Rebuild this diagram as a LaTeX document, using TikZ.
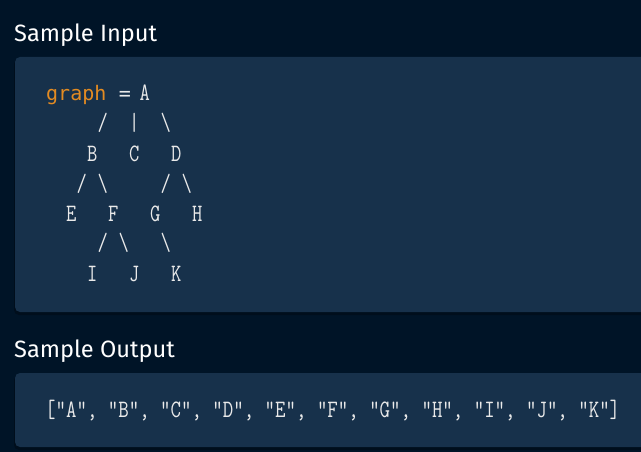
\documentclass[tikz,border=0pt]{standalone}
\usepackage{fontspec}
\usepackage{xcolor}
\setsansfont{Fira Sans}
\newfontfamily\keyfont{DejaVu Sans Mono}
\definecolor{pagebg}{HTML}{001427}
\definecolor{panelbg}{HTML}{17314B}
\definecolor{panelshade}{HTML}{000E1C}
\definecolor{codetext}{HTML}{EAEAEA}
\definecolor{keyword}{HTML}{E38B22}

% tall monospace glyphs, grid of the code panel
\newcommand{\tallglyph}[1]{\scalebox{1}[1.25]{#1}}
\newcommand{\gx}[1]{50.25+10.5*#1}
\newcommand{\gy}[1]{101+30*#1}

\begin{document}
\begin{tikzpicture}[x=1pt,y=-1pt]
\tikzstyle{every node}+=[inner sep=0pt]
\tikzstyle{heading}=[anchor=base west,text=white,font=\sffamily\fontsize{23.6}{24}\selectfont]
\tikzstyle{code}=[anchor=base,text=codetext,font=\ttfamily\fontsize{20}{20}\selectfont]
\tikzstyle{panel}=[fill=panelbg,rounded corners=5pt]
\tikzstyle{shade}=[fill=panelshade,rounded corners=5pt]
% page and panels
\useasboundingbox (0,0) rectangle (641,452);
\clip (0,0) rectangle (641,452);
\fill [pagebg] (0,0) rectangle (641,452);
\fill [shade] (14,59) rectangle (660,315);
\fill [panel] (15,57) rectangle (660,312);
\fill [shade] (14,375) rectangle (660,450);
\fill [panel] (15,373) rectangle (660,447);
% headings
\node [heading] (inhead) at (14,42) {Sample Input};
\node [heading] (outhead) at (14,357) {Sample Output};
% first line
\node [anchor=base west,text=keyword,font=\keyfont\fontsize{20}{20}\selectfont] (kw) at (46,101) {graph};
\node [anchor=base,text=codetext,font=\keyfont\fontsize{20}{20}\selectfont] (eq) at (125,101) {=};
\node [code] (A) at ({\gx{9}},{\gy{0}}) {\tallglyph{A}};
% row 1
\node [code] (AB) at ({\gx{5}},{\gy{1}}) {\tallglyph{/}};
\node [code] (AC) at ({\gx{8}},{\gy{1}}) {\tallglyph{|}};
\node [code] (AD) at ({\gx{11}},{\gy{1}}) {\tallglyph{\textbackslash}};
% row 2
\node [code] (B) at ({\gx{4}},{\gy{2}}) {\tallglyph{B}};
\node [code] (C) at ({\gx{8}},{\gy{2}}) {\tallglyph{C}};
\node [code] (D) at ({\gx{12}},{\gy{2}}) {\tallglyph{D}};
% row 3
\node [code] (BE) at ({\gx{3}},{\gy{3}}) {\tallglyph{/}};
\node [code] (BF) at ({\gx{5}},{\gy{3}}) {\tallglyph{\textbackslash}};
\node [code] (DG) at ({\gx{11}},{\gy{3}}) {\tallglyph{/}};
\node [code] (DH) at ({\gx{13}},{\gy{3}}) {\tallglyph{\textbackslash}};
% row 4
\node [code] (E) at ({\gx{2}},{\gy{4}}) {\tallglyph{E}};
\node [code] (F) at ({\gx{6}},{\gy{4}}) {\tallglyph{F}};
\node [code] (G) at ({\gx{10}},{\gy{4}}) {\tallglyph{G}};
\node [code] (H) at ({\gx{14}},{\gy{4}}) {\tallglyph{H}};
% row 5
\node [code] (FI) at ({\gx{5}},{\gy{5}}) {\tallglyph{/}};
\node [code] (FJ) at ({\gx{7}},{\gy{5}}) {\tallglyph{\textbackslash}};
\node [code] (GK) at ({\gx{11}},{\gy{5}}) {\tallglyph{\textbackslash}};
% row 6
\node [code] (I) at ({\gx{4}},{\gy{6}}) {\tallglyph{I}};
\node [code] (J) at ({\gx{8}},{\gy{6}}) {\tallglyph{J}};
\node [code] (K) at ({\gx{12}},{\gy{6}}) {\tallglyph{K}};
% output line
\node [code,anchor=base west] (result) at (45,417) {\scalebox{1.015}[1.25]{["A", "B", "C", "D", "E", "F", "G", "H", "I", "J", "K"]}};
\end{tikzpicture}
\end{document}
